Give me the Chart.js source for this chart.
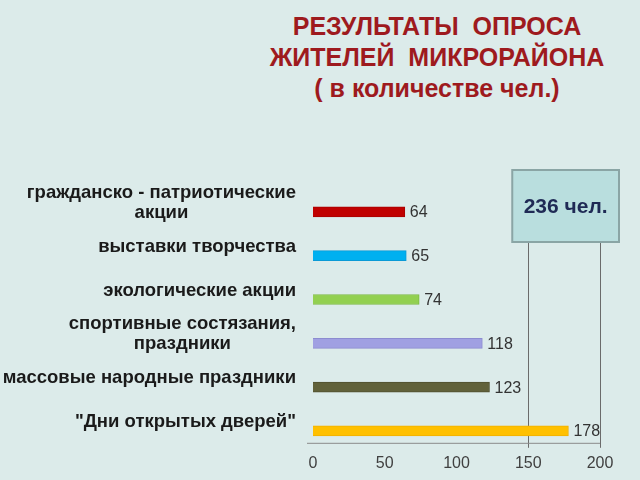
<!DOCTYPE html>
<html><head><meta charset="utf-8">
<script src="https://cdn.jsdelivr.net/npm/chart.js@4.4.1/dist/chart.umd.min.js"></script>
<style>
html,body{margin:0;padding:0;background:#dcebea;}
#wrap{position:relative;width:640px;height:480px;overflow:hidden;}
#title{position:absolute;left:237px;width:400px;top:11px;text-align:center;font:bold 25px "Liberation Sans",Arial,sans-serif;color:#9e1a1e;line-height:31px;}
canvas{position:absolute;left:0;top:0;}
</style></head><body>
<div id="wrap">
<div id="title">РЕЗУЛЬТАТЫ&nbsp; ОПРОСА<br>ЖИТЕЛЕЙ&nbsp; МИКРОРАЙОНА<br>( в количестве чел.)</div>
<canvas id="c" width="640" height="480"></canvas>
</div>
<script>
const categories = [
  ["гражданско - патриотические", "акции"],
  ["выставки творчества"],
  ["экологические акции"],
  ["спортивные состязания,", "праздники"],
  ["массовые народные праздники"],
  ["\"Дни открытых дверей\""]
];
const values = [64, 65, 74, 118, 123, 178];
const barColors = ["#c00000", "#00b0f0", "#92d050", "#a0a0e2", "#61613a", "#ffc000"];
const barBorders = ["#a80000", "#0a9ad6", "#7fba44", "#8c8cd0", "#505030", "#f0b000"];
const xTickValues = [0, 50, 100, 150, 200];
const totalText = "236 чел.";
const boxLineValues = [150, 200];

const FONT = '"Liberation Sans", Arial, sans-serif';

const decor = {
  id: 'decor',
  beforeDatasetsDraw(chart) {
    const ctx = chart.ctx, xs = chart.scales.x, ca = chart.chartArea;
    const axisY = ca.bottom - 10;
    const xl = xs.getPixelForValue(boxLineValues[0]);
    const xr = xs.getPixelForValue(boxLineValues[1]);
    const boxTop = 170, boxBottom = 242;
    ctx.save();
    ctx.strokeStyle = '#6b6b6b';
    ctx.lineWidth = 1;
    ctx.beginPath();
    ctx.moveTo(Math.round(xl) + 0.5, boxBottom); ctx.lineTo(Math.round(xl) + 0.5, axisY + 5);
    ctx.moveTo(Math.round(xr) + 0.5, boxBottom); ctx.lineTo(Math.round(xr) + 0.5, axisY + 5);
    ctx.stroke();
    ctx.strokeStyle = '#8a8a8a';
    ctx.beginPath();
    ctx.moveTo(ca.left - 6, axisY + 0.5); ctx.lineTo(xr, axisY + 0.5);
    ctx.stroke();
    const bl = xl - 16, br = xr + 19;
    ctx.fillStyle = '#b9dede';
    ctx.fillRect(bl, boxTop, br - bl, boxBottom - boxTop);
    ctx.strokeStyle = '#8aa5a5';
    ctx.lineWidth = 2;
    ctx.strokeRect(bl, boxTop, br - bl, boxBottom - boxTop);
    ctx.fillStyle = '#1f2a55';
    ctx.font = 'bold 21px ' + FONT;
    ctx.textAlign = 'center';
    ctx.textBaseline = 'middle';
    ctx.fillText(totalText, (bl + br) / 2, (boxTop + boxBottom) / 2 + 1);
    ctx.restore();
  },
  afterDatasetsDraw(chart) {
    const ctx = chart.ctx, ys = chart.scales.y, ca = chart.chartArea;
    const meta = chart.getDatasetMeta(0);
    ctx.save();
    ctx.font = '16px ' + FONT;
    ctx.fillStyle = '#333333';
    ctx.textAlign = 'left';
    ctx.textBaseline = 'middle';
    meta.data.forEach((bar, i) => {
      ctx.fillText(String(values[i]), bar.x + 5, bar.y + 1);
    });
    ctx.font = 'bold 18.5px ' + FONT;
    ctx.fillStyle = '#1a1a1a';
    ctx.textAlign = 'center';
    const right = ca.left - 17;
    const lh = 20;
    categories.forEach((lines, i) => {
      const cy = ys.getPixelForValue(i) - 9;
      const w = Math.max(...lines.map(l => ctx.measureText(l).width));
      const cx = right - w / 2;
      const y0 = cy - (lines.length - 1) * lh / 2;
      lines.forEach((l, k) => ctx.fillText(l, cx, y0 + k * lh));
    });
    ctx.restore();
  }
};

new Chart(document.getElementById('c'), {
  type: 'bar',
  data: {
    labels: categories,
    datasets: [{
      data: values,
      backgroundColor: barColors,
      borderColor: barBorders,
      borderWidth: 1,
      barThickness: 10
    }]
  },
  options: {
    indexAxis: 'y',
    responsive: false,
    animation: false,
    layout: { padding: { left: 313, right: 40, top: 190, bottom: 6 } },
    plugins: { legend: { display: false }, tooltip: { enabled: false } },
    scales: {
      x: {
        min: 0, max: 200,
        afterBuildTicks: s => { s.ticks = xTickValues.map(v => ({ value: v })); },
        ticks: { color: '#404040', font: { family: FONT, size: 16 }, padding: 1 },
        grid: { display: false, drawTicks: false },
        border: { display: false }
      },
      y: { display: false, offset: true }
    }
  },
  plugins: [decor]
});
</script>
</body></html>
